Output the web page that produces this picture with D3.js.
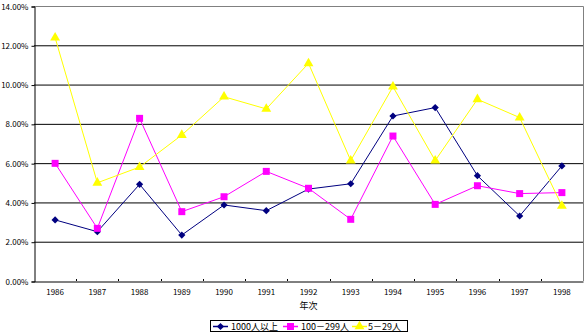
<!DOCTYPE html>
<html><head><meta charset="utf-8">
<script src="https://cdn.jsdelivr.net/npm/d3@7"></script>
<style>body{margin:0;background:#fff}svg{display:block}text{font-family:"Noto Sans CJK JP","DejaVu Sans",sans-serif;}</style>
</head><body>
<svg id="c" width="587" height="334"></svg>
<script>
const years = ["1986","1987","1988","1989","1990","1991","1992","1993","1994","1995","1996","1997","1998"];
const seriesNames = ["1000人以上","100－299人","5－29人"];
const large = [3.11,2.51,4.92,2.34,3.87,3.58,4.68,4.95,8.40,8.83,5.36,3.31,5.86];
const medium = [5.99,2.68,8.28,3.53,4.29,5.58,4.72,3.14,7.38,3.90,4.85,4.45,4.50];
const small = [12.39,5.00,5.80,7.43,9.38,8.76,11.08,6.13,9.89,6.13,9.25,8.32,3.82];
const yTicks = [0,2,4,6,8,10,12,14];
const xTitle = "年次";

const svg = d3.select("#c");
const L=34,R=583,T=6,B=281;
const x = d3.scaleBand().domain(years).range([L,R]);
const y = d3.scaleLinear().domain([0,14]).range([B,T]);

svg.append("g").selectAll("line").data(yTicks.filter(d=>d>0&&d<14)).join("line")
  .attr("x1",L).attr("x2",R).attr("y1",d=>y(d)+0.5).attr("y2",d=>y(d)+0.5)
  .attr("stroke","#000").attr("stroke-width",1);
svg.append("path").attr("d",`M${L},${T+0.5}H${R+0.5}V${B}`).attr("fill","none").attr("stroke","#808080");

const ya = svg.append("g").attr("transform",`translate(${L+0.5},0.5)`)
  .call(d3.axisLeft(y).tickValues(yTicks).tickSize(3).tickFormat(d=>d.toFixed(2)+"%"));
ya.select(".domain").attr("stroke","#000");
ya.selectAll("text").attr("font-size","8px").attr("fill","#000").attr("x",-6);
const xa = svg.append("g").attr("transform",`translate(0,${B+0.5})`)
  .call(d3.axisBottom(x).tickSize(0).tickPadding(8));
xa.select(".domain").attr("stroke","#000");
xa.selectAll("text").attr("font-size","8px").attr("fill","#000");
svg.append("g").selectAll("line").data(years.slice(1)).join("line")
  .attr("x1",d=>Math.round(x(d))+0.5).attr("x2",d=>Math.round(x(d))+0.5)
  .attr("y1",B-2).attr("y2",B).attr("stroke","#000");

svg.append("text").attr("x",(L+R)/2).attr("y",309).attr("text-anchor","middle")
  .attr("font-size","9px").text(xTitle);

const data = [
  {name:seriesNames[0],vals:large,color:"#000080",sym:d3.symbolSquare,size:26,rot:45},
  {name:seriesNames[1],vals:medium,color:"#FF00FF",sym:d3.symbolSquare,size:49,rot:0},
  {name:seriesNames[2],vals:small,color:"#FFFF00",sym:d3.symbolTriangle,size:42,rot:0}
];
const line = d3.line().x((d,i)=>x(years[i])+x.bandwidth()/2).y(d=>y(d));
data.forEach(s=>{
  svg.append("path").datum(s.vals).attr("d",line).attr("fill","none").attr("stroke",s.color).attr("stroke-width",1);
  svg.append("g").selectAll("path").data(s.vals).join("path")
    .attr("transform",(d,i)=>`translate(${x(years[i])+x.bandwidth()/2},${y(d)}) rotate(${s.rot})`)
    .attr("d",d3.symbol().type(s.sym).size(s.size)).attr("fill",s.color);
});

const lg = svg.append("g");
lg.append("rect").attr("x",210.5).attr("y",320.5).attr("width",197).attr("height",11).attr("fill","#fff").attr("stroke","#000");
const lx=[213,283,352], tx=[231,301,368];
data.forEach((s,i)=>{
  lg.append("line").attr("x1",lx[i]).attr("x2",lx[i]+15).attr("y1",326.5).attr("y2",326.5).attr("stroke",s.color).attr("stroke-width",1.5);
  lg.append("path").attr("transform",`translate(${lx[i]+7.5},326.5) rotate(${s.rot})`).attr("d",d3.symbol().type(s.sym).size(s.size)).attr("fill",s.color);
  lg.append("text").attr("x",tx[i]).attr("y",329.5).attr("font-size","9px").text(s.name);
});
</script>
</body></html>
